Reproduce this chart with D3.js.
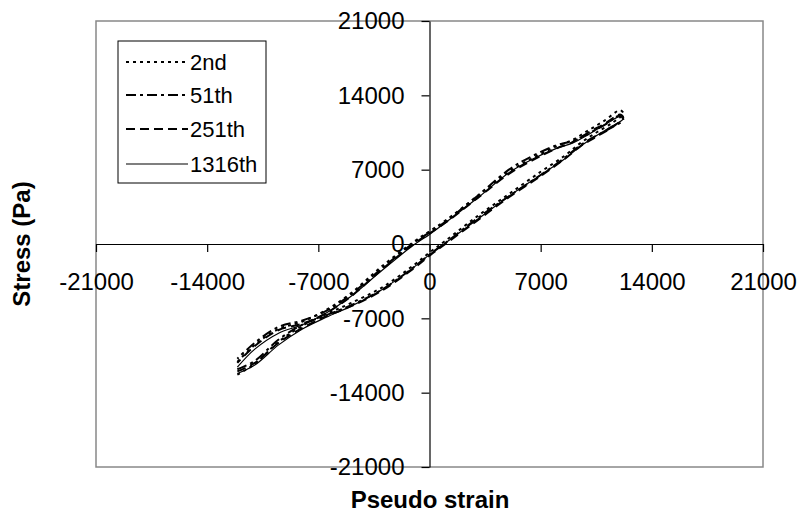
<!DOCTYPE html>
<html>
<head>
<meta charset="utf-8">
<script src="https://cdn.jsdelivr.net/npm/d3@7"></script>
<style>
  body { margin: 0; background: #fff; }
  svg { display: block; font-family: Arial, "Liberation Sans", sans-serif; }
</style>
</head>
<body>
<svg id="chart" width="806" height="529"></svg>
<script>
// ---- data ----
const tickValues = [-21000, -14000, -7000, 0, 7000, 14000, 21000];
const tickLabels = ["-21000", "-14000", "-7000", "0", "7000", "14000", "21000"];
const seriesNames = ["2nd", "51th", "251th", "1316th"];

// strain path: loading branch (left -> right), then unloading branch (right -> left)
const strain = [-12100, -11000, -9500, -8000, -6500, -5000, -3000, -1000, 0, 1000, 3000, 5000, 7000, 8500, 9500, 10500, 11500, 12200,
                12000, 11000, 10000, 9000, 8000, 6500, 5000, 3000, 1000, 0, -1000, -3000, -5000, -6500, -8000, -9500, -11000, -12100];

const stress2nd = [-12300, -11300, -9200, -7700, -6600, -5600, -4100, -2000, -800, 300, 2600, 4700, 6800, 8300, 9500, 10500, 11400, 12300,
                   12600, 11600, 10700, 9800, 9200, 8100, 6800, 4500, 2200, 1200, 200, -2100, -4700, -6200, -7300, -8000, -9500, -11100];
const stress51th = [-11800, -11000, -9000, -7600, -6700, -5800, -4300, -2200, -1000, 100, 2400, 4500, 6500, 8100, 9300, 10200, 11000, 11700,
                    12100, 11200, 10400, 9700, 9300, 8300, 7000, 4500, 2100, 1100, 100, -2300, -4800, -6300, -7200, -7800, -9300, -10800];
const stress251th = [-12000, -11200, -9300, -7900, -6800, -5900, -4400, -2300, -1100, 0, 2200, 4400, 6400, 8000, 9200, 10100, 11000, 11900,
                     12200, 11300, 10500, 9600, 9000, 7900, 6600, 4300, 2000, 1000, 0, -2400, -5000, -6500, -7500, -8100, -9600, -11200];
const stress1316th = [-12200, -11400, -9500, -8000, -6900, -5900, -4300, -2200, -1000, 100, 2300, 4500, 6500, 8000, 9200, 10200, 11100, 11800,
                      12000, 11200, 10300, 9500, 9000, 8000, 6700, 4300, 2000, 900, -100, -2500, -5000, -6500, -7600, -8400, -9900, -11600];

const seriesStress = [stress2nd, stress51th, stress251th, stress1316th];

// ---- styles ----
const dashes = ["3,4", "10,4,3,4", "9,5", null];
const widths = [2, 2, 2, 1.2];

const svg = d3.select("#chart");
const x = d3.scaleLinear().domain([-21000, 21000]).range([96, 763]);
const y = d3.scaleLinear().domain([-21000, 21000]).range([467, 21]);

// plot border
svg.append("rect")
  .attr("x", 96).attr("y", 21)
  .attr("width", 763 - 96).attr("height", 467 - 21)
  .attr("fill", "#fff").attr("stroke", "#888").attr("stroke-width", 1.5);

// series
const line = d3.line().x(d => x(d[0])).y(d => y(d[1])).curve(d3.curveCatmullRom.alpha(0.5));
seriesStress.forEach((s, i) => {
  const pts = strain.map((v, k) => [v, s[k]]);
  svg.append("path")
    .datum(pts)
    .attr("d", line)
    .attr("fill", "none")
    .attr("stroke", "#000")
    .attr("stroke-width", widths[i])
    .attr("stroke-dasharray", dashes[i]);
});

// axes
const fmt = (d) => tickLabels[tickValues.indexOf(d)];
const xAxis = svg.append("g")
  .attr("transform", `translate(0,${y(0)})`)
  .call(d3.axisBottom(x).tickValues(tickValues).tickFormat(fmt).tickSize(8).tickSizeOuter(0).tickPadding(21));
const yAxis = svg.append("g")
  .attr("transform", `translate(${x(0)},0)`)
  .call(d3.axisLeft(y).tickValues(tickValues).tickFormat(fmt).tickSize(8).tickSizeOuter(0).tickPadding(17));

[xAxis, yAxis].forEach(g => {
  g.selectAll("path.domain").attr("stroke", "#000").attr("stroke-width", 1.2);
  g.selectAll(".tick line").attr("stroke", "#000").attr("stroke-width", 1.2);
  g.selectAll(".tick text").attr("font-size", 24).attr("fill", "#000")
    .attr("font-family", "Arial, 'Liberation Sans', sans-serif");
});

// axis titles
svg.append("text")
  .attr("x", 430).attr("y", 508)
  .attr("text-anchor", "middle")
  .attr("font-size", 24).attr("font-weight", "bold")
  .text("Pseudo strain");
svg.append("text")
  .attr("transform", "translate(30,244) rotate(-90)")
  .attr("text-anchor", "middle")
  .attr("font-size", 24).attr("font-weight", "bold")
  .text("Stress (Pa)");

// legend
const lg = svg.append("g");
lg.append("rect")
  .attr("x", 118).attr("y", 41).attr("width", 148).attr("height", 142)
  .attr("fill", "#fff").attr("stroke", "#000").attr("stroke-width", 1);
const rowY = [62, 95, 129, 164];
seriesNames.forEach((name, i) => {
  lg.append("line")
    .attr("x1", 126).attr("x2", 188)
    .attr("y1", rowY[i]).attr("y2", rowY[i])
    .attr("stroke", "#000").attr("stroke-width", widths[i])
    .attr("stroke-dasharray", dashes[i]);
  lg.append("text")
    .attr("x", 190).attr("y", rowY[i]).attr("dy", "0.35em")
    .attr("font-size", 22)
    .text(name);
});
</script>
</body>
</html>
